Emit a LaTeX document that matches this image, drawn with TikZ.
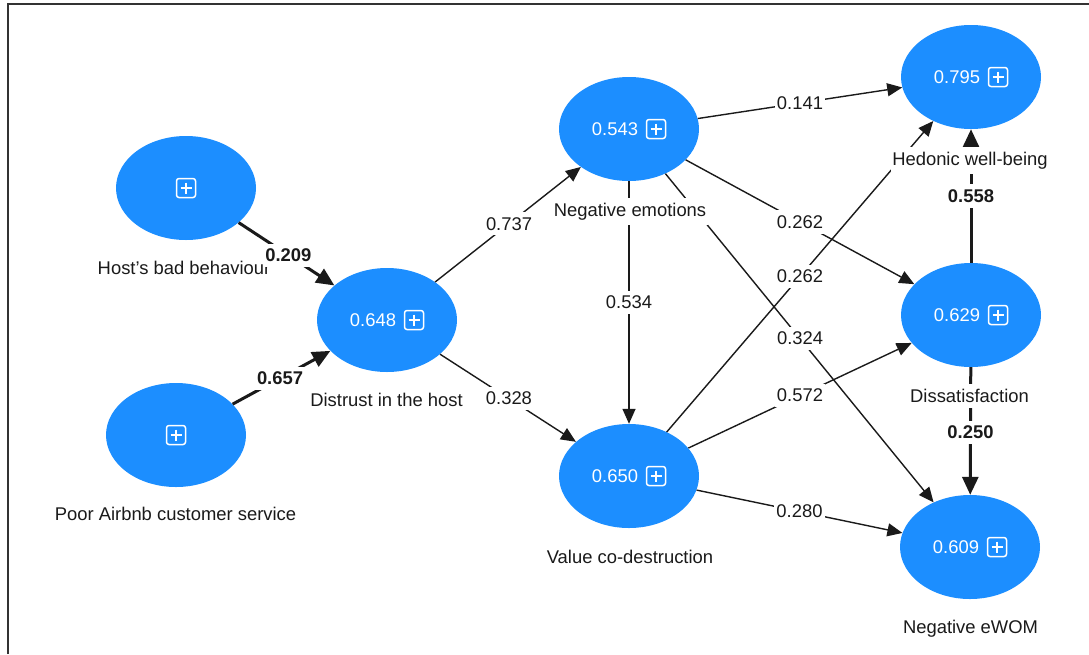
\documentclass[tikz,border=0pt]{standalone}
\usepackage{fontspec}
\setmainfont{Liberation Sans}
\usetikzlibrary{arrows.meta,shapes.geometric}
\definecolor{lvblue}{HTML}{1C8EFF}
\definecolor{ink}{HTML}{1A1A1A}
\newcommand\figfont{\fontsize{18.4}{22}\selectfont}
\newcommand\valpad{\kern28pt\mbox{}}
\tikzset{
  plusbox/.pic={
    \draw[white,line width=1.5pt,rounded corners=2.5pt] (-9.5,-9.5) rectangle (9.5,9.5);
    \draw[white,line width=1.5pt] (-5.5,0) -- (5.5,0) (0,-5.5) -- (0,5.5);
  }
}
\begin{document}
\begin{tikzpicture}[x=1pt,y=-1pt,
  lv/.style={ellipse, fill=lvblue, minimum width=140pt, minimum height=104pt,
             inner sep=0pt, text=white, font=\figfont},
  arr/.style={draw=ink, line width=1.4pt, -{Triangle[length=15pt,width=13pt]}},
  tarr/.style={draw=ink, line width=3pt, -{Triangle[length=18pt,width=16pt]}},
  vname/.style={fill=white, inner xsep=1.5pt, inner ysep=5pt, text=ink, anchor=base, font=\figfont},
  coef/.style={fill=white, inner xsep=2pt, inner ysep=5pt, text=ink, font=\figfont},
  bcoef/.style={coef, font=\figfont\bfseries}]
\useasboundingbox (0,0) rectangle (1089,654);
\fill[white] (0,0) rectangle (1089,654);
\draw[line width=2.5pt, black!80] (8,654) -- (8,4) -- (1089,4);

% latent variables
\node[lv] (H)  at (186,188) {};
\node[lv] (P)  at (176,435) {};
\node[lv] (D)  at (387,320) {0.648\valpad};
\node[lv] (N)  at (629,129) {0.543\valpad};
\node[lv] (V)  at (629,476) {0.650\valpad};
\node[lv] (HW) at (971,77)  {0.795\valpad};
\node[lv] (DS) at (971,315) {0.629\valpad};
\node[lv] (E)  at (970,547) {0.609\valpad};

\pic at (H.center) {plusbox};
\pic at (P.center) {plusbox};
\pic at ([xshift=27pt]D.center) {plusbox};
\pic at ([xshift=27pt]N.center) {plusbox};
\pic at ([xshift=27pt]V.center) {plusbox};
\pic at ([xshift=27pt]HW.center) {plusbox};
\pic at ([xshift=27pt]DS.center) {plusbox};
\pic at ([xshift=27pt]E.center) {plusbox};

% paths
\draw[tarr] (H) -- (D);
\draw[tarr] (P) -- (D);
\draw[arr] (D) -- (N);
\draw[arr] (D) -- (V);
\draw[arr] (N) -- (V);
\draw[arr] (N) -- (HW);
\draw[arr] (N) -- (DS);
\draw[arr] (N) -- (E);
\draw[arr] (V) -- (HW);
\draw[arr] (V) -- (DS);
\draw[arr] (V) -- (E);
\draw[tarr] (DS) -- (HW);
\draw[tarr] (DS) -- (E);

% variable names
\node[vname] (Hl)  at (184,274)   {Host’s bad behaviour};
\node[vname] (Pl)  at (175.5,520) {Poor Airbnb customer service};
\node[vname] (Dl)  at (386.5,406) {Distrust in the host};
\node[vname] (Nl)  at (630,216)   {Negative emotions};
\node[vname] (Vl)  at (630,563)   {Value co-destruction};
\node[vname] (HWl) at (970,165)   {Hedonic well-being};
\node[vname] (DSl) at (969.5,402.5) {Dissatisfaction};
\node[vname] (El)  at (970.5,633) {Negative eWOM};

% path coefficients
\path (H) -- (D)   node[bcoef, pos=.52] (c1) {0.209};
\path (P) -- (D)   node[bcoef, pos=.485] (c2) {0.657};
\path (D) -- (N)   node[coef, pos=.507] (c3) {0.737};
\path (D) -- (V)   node[coef, pos=.507] (c4) {0.328};
\path (N) -- (V)   node[coef, pos=.498] (c5) {0.534};
\path (N) -- (HW)  node[coef, pos=.5] (c6) {0.141};
\path (N) -- (DS)  node[coef, pos=.5] (c7) {0.262};
\path (N) -- (E)   node[coef, pos=.502] (c8) {0.324};
\path (V) -- (HW)  node[coef, pos=.5] (c9) {0.262};
\path (V) -- (DS)  node[coef, pos=.5] (c10) {0.572};
\path (V) -- (E)   node[coef, pos=.5] (c11) {0.280};
\path (DS) -- (HW) node[bcoef, pos=.5] (c12) {0.558};
\path (DS) -- (E)  node[bcoef, pos=.51] (c13) {0.250};
\end{tikzpicture}
\end{document}
